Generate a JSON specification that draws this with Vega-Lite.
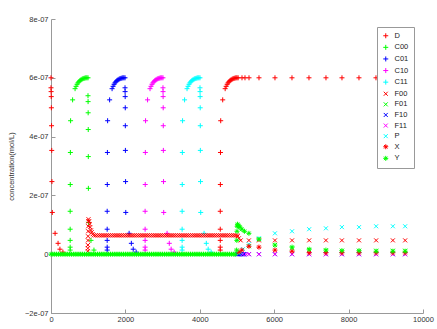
{
"$schema":"https://vega.github.io/schema/vega-lite/v6.json",
"width":372,"height":294,
"autosize":{"type":"none"},
"padding":{"left":51,"top":19,"right":14,"bottom":16},
"background":"white",
"data":{"values":[
{"s":"D","t":0,"c":6e-7},{"s":"D","t":0,"c":5.66e-7},{"s":"D","t":3,"c":5.53e-7},{"s":"D","t":6,"c":5.36e-7},{"s":"D","t":10,"c":4.98e-7},{"s":"D","t":15,"c":4.37e-7},{"s":"D","t":20,"c":3.53e-7},{"s":"D","t":25,"c":2.47e-7},{"s":"D","t":35,"c":1.42e-7},{"s":"D","t":110,"c":7.1e-8},{"s":"D","t":190,"c":3.7e-8},{"s":"D","t":240,"c":1.7e-8},{"s":"D","t":320,"c":7e-9},
{"s":"D","t":4550,"c":1.4e-8},{"s":"D","t":4550,"c":2.4e-8},{"s":"D","t":4550,"c":4.7e-8},{"s":"D","t":4550,"c":8.5e-8},{"s":"D","t":4550,"c":1.46e-7},{"s":"D","t":4553,"c":2.37e-7},{"s":"D","t":4556,"c":3.46e-7},{"s":"D","t":4562,"c":4.54e-7},{"s":"D","t":4616,"c":5.25e-7},{"s":"D","t":4682,"c":5.63e-7},{"s":"D","t":4708,"c":5.71e-7},{"s":"D","t":4735,"c":5.78e-7},{"s":"D","t":4761,"c":5.83e-7},{"s":"D","t":4788,"c":5.87e-7},{"s":"D","t":4814,"c":5.91e-7},{"s":"D","t":4840,"c":5.93e-7},{"s":"D","t":4867,"c":5.95e-7},{"s":"D","t":4893,"c":5.97e-7},{"s":"D","t":4920,"c":5.98e-7},{"s":"D","t":4946,"c":5.99e-7},{"s":"D","t":4972,"c":6e-7},{"s":"D","t":4999,"c":6e-7},{"s":"D","t":5030,"c":6e-7},
{"s":"D","t":5134,"c":6e-7},{"s":"D","t":5215,"c":6e-7},{"s":"D","t":5323,"c":6e-7},{"s":"D","t":5591,"c":6e-7},{"s":"D","t":6021,"c":6e-7},{"s":"D","t":6478,"c":6e-7},{"s":"D","t":6935,"c":6e-7},{"s":"D","t":7392,"c":6e-7},{"s":"D","t":7822,"c":6e-7},{"s":"D","t":8279,"c":6e-7},{"s":"D","t":8736,"c":6e-7},{"s":"D","t":9193,"c":6e-7},{"s":"D","t":9516,"c":6e-7},

{"s":"C00","t":515,"c":1.4e-8},{"s":"C00","t":515,"c":2.4e-8},{"s":"C00","t":515,"c":4.7e-8},{"s":"C00","t":515,"c":8.5e-8},{"s":"C00","t":515,"c":1.46e-7},{"s":"C00","t":518,"c":2.37e-7},{"s":"C00","t":521,"c":3.46e-7},{"s":"C00","t":527,"c":4.54e-7},{"s":"C00","t":581,"c":5.25e-7},{"s":"C00","t":647,"c":5.63e-7},{"s":"C00","t":673,"c":5.71e-7},{"s":"C00","t":700,"c":5.78e-7},{"s":"C00","t":726,"c":5.83e-7},{"s":"C00","t":753,"c":5.87e-7},{"s":"C00","t":779,"c":5.91e-7},{"s":"C00","t":805,"c":5.93e-7},{"s":"C00","t":832,"c":5.95e-7},{"s":"C00","t":858,"c":5.97e-7},{"s":"C00","t":885,"c":5.98e-7},{"s":"C00","t":911,"c":5.99e-7},{"s":"C00","t":937,"c":6e-7},{"s":"C00","t":964,"c":6e-7},
{"s":"C00","t":995,"c":6e-7},{"s":"C00","t":995,"c":5.39e-7},{"s":"C00","t":997,"c":5.19e-7},{"s":"C00","t":999,"c":4.81e-7},{"s":"C00","t":1001,"c":4.24e-7},{"s":"C00","t":1003,"c":3.32e-7},{"s":"C00","t":1005,"c":2.24e-7},{"s":"C00","t":1010,"c":1.08e-7},{"s":"C00","t":1075,"c":4.7e-8},{"s":"C00","t":1155,"c":1.4e-8},

{"s":"C01","t":1510,"c":1.4e-8},{"s":"C01","t":1510,"c":2.4e-8},{"s":"C01","t":1510,"c":4.7e-8},{"s":"C01","t":1510,"c":8.5e-8},{"s":"C01","t":1510,"c":1.46e-7},{"s":"C01","t":1513,"c":2.37e-7},{"s":"C01","t":1516,"c":3.46e-7},{"s":"C01","t":1522,"c":4.54e-7},{"s":"C01","t":1576,"c":5.25e-7},{"s":"C01","t":1642,"c":5.63e-7},{"s":"C01","t":1668,"c":5.71e-7},{"s":"C01","t":1695,"c":5.78e-7},{"s":"C01","t":1721,"c":5.83e-7},{"s":"C01","t":1748,"c":5.87e-7},{"s":"C01","t":1774,"c":5.91e-7},{"s":"C01","t":1800,"c":5.93e-7},{"s":"C01","t":1827,"c":5.95e-7},{"s":"C01","t":1853,"c":5.97e-7},{"s":"C01","t":1880,"c":5.98e-7},{"s":"C01","t":1906,"c":5.99e-7},{"s":"C01","t":1932,"c":6e-7},{"s":"C01","t":1959,"c":6e-7},
{"s":"C01","t":1990,"c":6e-7},{"s":"C01","t":1990,"c":5.66e-7},{"s":"C01","t":1992,"c":5.53e-7},{"s":"C01","t":1994,"c":5.36e-7},{"s":"C01","t":1996,"c":4.98e-7},{"s":"C01","t":1998,"c":4.37e-7},{"s":"C01","t":2000,"c":3.53e-7},{"s":"C01","t":2005,"c":2.47e-7},{"s":"C01","t":2010,"c":1.42e-7},{"s":"C01","t":2100,"c":7.1e-8},{"s":"C01","t":2160,"c":3.7e-8},{"s":"C01","t":2210,"c":1.7e-8},{"s":"C01","t":2290,"c":7e-9},

{"s":"C10","t":2530,"c":1.4e-8},{"s":"C10","t":2530,"c":2.4e-8},{"s":"C10","t":2530,"c":4.7e-8},{"s":"C10","t":2530,"c":8.5e-8},{"s":"C10","t":2530,"c":1.46e-7},{"s":"C10","t":2533,"c":2.37e-7},{"s":"C10","t":2536,"c":3.46e-7},{"s":"C10","t":2542,"c":4.54e-7},{"s":"C10","t":2596,"c":5.25e-7},{"s":"C10","t":2662,"c":5.63e-7},{"s":"C10","t":2688,"c":5.71e-7},{"s":"C10","t":2715,"c":5.78e-7},{"s":"C10","t":2741,"c":5.83e-7},{"s":"C10","t":2768,"c":5.87e-7},{"s":"C10","t":2794,"c":5.91e-7},{"s":"C10","t":2820,"c":5.93e-7},{"s":"C10","t":2847,"c":5.95e-7},{"s":"C10","t":2873,"c":5.97e-7},{"s":"C10","t":2900,"c":5.98e-7},{"s":"C10","t":2926,"c":5.99e-7},{"s":"C10","t":2952,"c":6e-7},{"s":"C10","t":2979,"c":6e-7},
{"s":"C10","t":3010,"c":6e-7},{"s":"C10","t":3010,"c":5.66e-7},{"s":"C10","t":3012,"c":5.53e-7},{"s":"C10","t":3014,"c":5.36e-7},{"s":"C10","t":3016,"c":4.98e-7},{"s":"C10","t":3018,"c":4.37e-7},{"s":"C10","t":3020,"c":3.53e-7},{"s":"C10","t":3025,"c":2.47e-7},{"s":"C10","t":3030,"c":1.42e-7},{"s":"C10","t":3120,"c":7.1e-8},{"s":"C10","t":3180,"c":3.7e-8},{"s":"C10","t":3230,"c":1.7e-8},{"s":"C10","t":3310,"c":7e-9},

{"s":"C11","t":3525,"c":1.4e-8},{"s":"C11","t":3525,"c":2.4e-8},{"s":"C11","t":3525,"c":4.7e-8},{"s":"C11","t":3525,"c":8.5e-8},{"s":"C11","t":3525,"c":1.46e-7},{"s":"C11","t":3528,"c":2.37e-7},{"s":"C11","t":3531,"c":3.46e-7},{"s":"C11","t":3537,"c":4.54e-7},{"s":"C11","t":3591,"c":5.25e-7},{"s":"C11","t":3657,"c":5.63e-7},{"s":"C11","t":3683,"c":5.71e-7},{"s":"C11","t":3710,"c":5.78e-7},{"s":"C11","t":3736,"c":5.83e-7},{"s":"C11","t":3763,"c":5.87e-7},{"s":"C11","t":3789,"c":5.91e-7},{"s":"C11","t":3815,"c":5.93e-7},{"s":"C11","t":3842,"c":5.95e-7},{"s":"C11","t":3868,"c":5.97e-7},{"s":"C11","t":3895,"c":5.98e-7},{"s":"C11","t":3921,"c":5.99e-7},{"s":"C11","t":3947,"c":6e-7},{"s":"C11","t":3974,"c":6e-7},
{"s":"C11","t":4005,"c":6e-7},{"s":"C11","t":4005,"c":5.66e-7},{"s":"C11","t":4007,"c":5.53e-7},{"s":"C11","t":4009,"c":5.36e-7},{"s":"C11","t":4011,"c":4.98e-7},{"s":"C11","t":4013,"c":4.37e-7},{"s":"C11","t":4015,"c":3.53e-7},{"s":"C11","t":4020,"c":2.47e-7},{"s":"C11","t":4025,"c":1.42e-7},{"s":"C11","t":4115,"c":7.1e-8},{"s":"C11","t":4175,"c":3.7e-8},{"s":"C11","t":4225,"c":1.7e-8},{"s":"C11","t":4305,"c":7e-9},

{"s":"F00","t":990,"c":1e-8},{"s":"F00","t":990,"c":2e-8},{"s":"F00","t":992,"c":3.1e-8},{"s":"F00","t":994,"c":4.7e-8},{"s":"F00","t":996,"c":6.1e-8},{"s":"F00","t":998,"c":7.8e-8},{"s":"F00","t":1000,"c":9.5e-8},{"s":"F00","t":1002,"c":1.12e-7},{"s":"F00","t":1008,"c":1.19e-7},{"s":"F00","t":1025,"c":1.12e-7},{"s":"F00","t":1040,"c":1.02e-7},{"s":"F00","t":1055,"c":9.2e-8},{"s":"F00","t":1075,"c":8.1e-8},{"s":"F00","t":1095,"c":7.5e-8},{"s":"F00","t":1120,"c":6.8e-8},{"s":"F00","t":1150,"c":6.4e-8},
{"s":"F00","t":1200,"c":6.4e-8},{"s":"F00","t":1250,"c":6.4e-8},{"s":"F00","t":1300,"c":6.4e-8},{"s":"F00","t":1350,"c":6.4e-8},{"s":"F00","t":1400,"c":6.4e-8},{"s":"F00","t":1450,"c":6.4e-8},{"s":"F00","t":1500,"c":6.4e-8},{"s":"F00","t":1550,"c":6.4e-8},{"s":"F00","t":1600,"c":6.4e-8},{"s":"F00","t":1650,"c":6.4e-8},{"s":"F00","t":1700,"c":6.4e-8},{"s":"F00","t":1750,"c":6.4e-8},{"s":"F00","t":1800,"c":6.4e-8},{"s":"F00","t":1850,"c":6.4e-8},{"s":"F00","t":1900,"c":6.4e-8},{"s":"F00","t":1950,"c":6.4e-8},{"s":"F00","t":2000,"c":6.4e-8},{"s":"F00","t":2050,"c":6.4e-8},{"s":"F00","t":2100,"c":6.4e-8},{"s":"F00","t":2150,"c":6.4e-8},{"s":"F00","t":2200,"c":6.4e-8},{"s":"F00","t":2250,"c":6.4e-8},{"s":"F00","t":2300,"c":6.4e-8},{"s":"F00","t":2350,"c":6.4e-8},{"s":"F00","t":2400,"c":6.4e-8},{"s":"F00","t":2450,"c":6.4e-8},{"s":"F00","t":2500,"c":6.4e-8},{"s":"F00","t":2550,"c":6.4e-8},{"s":"F00","t":2600,"c":6.4e-8},{"s":"F00","t":2650,"c":6.4e-8},{"s":"F00","t":2700,"c":6.4e-8},{"s":"F00","t":2750,"c":6.4e-8},{"s":"F00","t":2800,"c":6.4e-8},{"s":"F00","t":2850,"c":6.4e-8},{"s":"F00","t":2900,"c":6.4e-8},{"s":"F00","t":2950,"c":6.4e-8},{"s":"F00","t":3000,"c":6.4e-8},{"s":"F00","t":3050,"c":6.4e-8},{"s":"F00","t":3100,"c":6.4e-8},{"s":"F00","t":3150,"c":6.4e-8},{"s":"F00","t":3200,"c":6.4e-8},{"s":"F00","t":3250,"c":6.4e-8},{"s":"F00","t":3300,"c":6.4e-8},{"s":"F00","t":3350,"c":6.4e-8},{"s":"F00","t":3400,"c":6.4e-8},{"s":"F00","t":3450,"c":6.4e-8},{"s":"F00","t":3500,"c":6.4e-8},{"s":"F00","t":3550,"c":6.4e-8},{"s":"F00","t":3600,"c":6.4e-8},{"s":"F00","t":3650,"c":6.4e-8},{"s":"F00","t":3700,"c":6.4e-8},{"s":"F00","t":3750,"c":6.4e-8},{"s":"F00","t":3800,"c":6.4e-8},{"s":"F00","t":3850,"c":6.4e-8},{"s":"F00","t":3900,"c":6.4e-8},{"s":"F00","t":3950,"c":6.4e-8},{"s":"F00","t":4000,"c":6.4e-8},{"s":"F00","t":4050,"c":6.4e-8},{"s":"F00","t":4100,"c":6.4e-8},{"s":"F00","t":4150,"c":6.4e-8},{"s":"F00","t":4200,"c":6.4e-8},{"s":"F00","t":4250,"c":6.4e-8},{"s":"F00","t":4300,"c":6.4e-8},{"s":"F00","t":4350,"c":6.4e-8},{"s":"F00","t":4400,"c":6.4e-8},{"s":"F00","t":4450,"c":6.4e-8},{"s":"F00","t":4500,"c":6.4e-8},{"s":"F00","t":4550,"c":6.4e-8},{"s":"F00","t":4600,"c":6.4e-8},{"s":"F00","t":4650,"c":6.4e-8},{"s":"F00","t":4700,"c":6.4e-8},{"s":"F00","t":4750,"c":6.4e-8},{"s":"F00","t":4800,"c":6.4e-8},{"s":"F00","t":4850,"c":6.4e-8},{"s":"F00","t":4900,"c":6.4e-8},{"s":"F00","t":4950,"c":6.4e-8},{"s":"F00","t":5000,"c":6.4e-8},
{"s":"F00","t":5020,"c":6.1e-8},{"s":"F00","t":5050,"c":5.4e-8},{"s":"F00","t":5100,"c":4.7e-8},{"s":"F00","t":5320,"c":4.7e-8},{"s":"F00","t":5590,"c":4.7e-8},{"s":"F00","t":6020,"c":4.7e-8},{"s":"F00","t":6480,"c":4.7e-8},{"s":"F00","t":6940,"c":4.7e-8},{"s":"F00","t":7390,"c":4.7e-8},{"s":"F00","t":7820,"c":4.7e-8},{"s":"F00","t":8280,"c":4.7e-8},{"s":"F00","t":8740,"c":4.7e-8},{"s":"F00","t":9190,"c":4.7e-8},{"s":"F00","t":9520,"c":4.7e-8},

{"s":"F01","t":5320,"c":2.7e-8},{"s":"F01","t":5590,"c":5.1e-8},{"s":"F01","t":6020,"c":3.1e-8},{"s":"F01","t":6480,"c":2.0e-8},{"s":"F01","t":6940,"c":1.4e-8},{"s":"F01","t":7390,"c":1.2e-8},{"s":"F01","t":7820,"c":1.2e-8},{"s":"F01","t":8280,"c":1.2e-8},{"s":"F01","t":8740,"c":1.2e-8},{"s":"F01","t":9190,"c":1.2e-8},{"s":"F01","t":9520,"c":1.2e-8},

{"s":"F10","t":5000,"c":0},{"s":"F10","t":5020,"c":0},{"s":"F10","t":5040,"c":0},{"s":"F10","t":5060,"c":0},{"s":"F10","t":5080,"c":0},{"s":"F10","t":5100,"c":0},{"s":"F10","t":5120,"c":0},{"s":"F10","t":5140,"c":0},{"s":"F10","t":5160,"c":0},{"s":"F10","t":5180,"c":0},{"s":"F10","t":5200,"c":0},{"s":"F10","t":5320,"c":0},{"s":"F10","t":5590,"c":0},{"s":"F10","t":6020,"c":0},{"s":"F10","t":6480,"c":0},{"s":"F10","t":6940,"c":0},{"s":"F10","t":7390,"c":0},{"s":"F10","t":7820,"c":0},{"s":"F10","t":8280,"c":0},{"s":"F10","t":8740,"c":0},{"s":"F10","t":9190,"c":0},{"s":"F10","t":9520,"c":0},

{"s":"F11","t":5150,"c":0},{"s":"F11","t":5250,"c":0},{"s":"F11","t":5320,"c":0},{"s":"F11","t":5590,"c":0},{"s":"F11","t":6020,"c":0},{"s":"F11","t":6480,"c":0},{"s":"F11","t":6940,"c":0},{"s":"F11","t":7390,"c":0},{"s":"F11","t":7820,"c":0},{"s":"F11","t":8280,"c":0},{"s":"F11","t":8740,"c":0},{"s":"F11","t":9190,"c":0},{"s":"F11","t":9520,"c":0},

{"s":"P","t":5050,"c":3e-9},{"s":"P","t":5100,"c":7e-9},{"s":"P","t":5160,"c":1.7e-8},{"s":"P","t":5320,"c":3.4e-8},{"s":"P","t":5590,"c":5.4e-8},{"s":"P","t":6020,"c":7.1e-8},{"s":"P","t":6480,"c":7.8e-8},{"s":"P","t":6940,"c":8.5e-8},{"s":"P","t":7390,"c":8.8e-8},{"s":"P","t":7820,"c":9.2e-8},{"s":"P","t":8280,"c":9.2e-8},{"s":"P","t":8740,"c":9.5e-8},{"s":"P","t":9190,"c":9.5e-8},{"s":"P","t":9520,"c":9.5e-8},

{"s":"X","t":5050,"c":7e-9},{"s":"X","t":5130,"c":1.4e-8},{"s":"X","t":5320,"c":2.7e-8},{"s":"X","t":5590,"c":2.4e-8},{"s":"X","t":6020,"c":1.4e-8},{"s":"X","t":6480,"c":1.0e-8},{"s":"X","t":6940,"c":5e-9},{"s":"X","t":7390,"c":5e-9},{"s":"X","t":7820,"c":5e-9},{"s":"X","t":8280,"c":5e-9},{"s":"X","t":8740,"c":5e-9},{"s":"X","t":9190,"c":5e-9},{"s":"X","t":9520,"c":5e-9},

{"s":"Y","t":0,"c":0},{"s":"Y","t":50,"c":0},{"s":"Y","t":100,"c":0},{"s":"Y","t":150,"c":0},{"s":"Y","t":200,"c":0},{"s":"Y","t":250,"c":0},{"s":"Y","t":300,"c":0},{"s":"Y","t":350,"c":0},{"s":"Y","t":400,"c":0},{"s":"Y","t":450,"c":0},{"s":"Y","t":500,"c":0},{"s":"Y","t":550,"c":0},{"s":"Y","t":600,"c":0},{"s":"Y","t":650,"c":0},{"s":"Y","t":700,"c":0},{"s":"Y","t":750,"c":0},{"s":"Y","t":800,"c":0},{"s":"Y","t":850,"c":0},{"s":"Y","t":900,"c":0},{"s":"Y","t":950,"c":0},{"s":"Y","t":1000,"c":0},{"s":"Y","t":1050,"c":0},{"s":"Y","t":1100,"c":0},{"s":"Y","t":1150,"c":0},{"s":"Y","t":1200,"c":0},{"s":"Y","t":1250,"c":0},{"s":"Y","t":1300,"c":0},{"s":"Y","t":1350,"c":0},{"s":"Y","t":1400,"c":0},{"s":"Y","t":1450,"c":0},{"s":"Y","t":1500,"c":0},{"s":"Y","t":1550,"c":0},{"s":"Y","t":1600,"c":0},{"s":"Y","t":1650,"c":0},{"s":"Y","t":1700,"c":0},{"s":"Y","t":1750,"c":0},{"s":"Y","t":1800,"c":0},{"s":"Y","t":1850,"c":0},{"s":"Y","t":1900,"c":0},{"s":"Y","t":1950,"c":0},{"s":"Y","t":2000,"c":0},{"s":"Y","t":2050,"c":0},{"s":"Y","t":2100,"c":0},{"s":"Y","t":2150,"c":0},{"s":"Y","t":2200,"c":0},{"s":"Y","t":2250,"c":0},{"s":"Y","t":2300,"c":0},{"s":"Y","t":2350,"c":0},{"s":"Y","t":2400,"c":0},{"s":"Y","t":2450,"c":0},{"s":"Y","t":2500,"c":0},{"s":"Y","t":2550,"c":0},{"s":"Y","t":2600,"c":0},{"s":"Y","t":2650,"c":0},{"s":"Y","t":2700,"c":0},{"s":"Y","t":2750,"c":0},{"s":"Y","t":2800,"c":0},{"s":"Y","t":2850,"c":0},{"s":"Y","t":2900,"c":0},{"s":"Y","t":2950,"c":0},{"s":"Y","t":3000,"c":0},{"s":"Y","t":3050,"c":0},{"s":"Y","t":3100,"c":0},{"s":"Y","t":3150,"c":0},{"s":"Y","t":3200,"c":0},{"s":"Y","t":3250,"c":0},{"s":"Y","t":3300,"c":0},{"s":"Y","t":3350,"c":0},{"s":"Y","t":3400,"c":0},{"s":"Y","t":3450,"c":0},{"s":"Y","t":3500,"c":0},{"s":"Y","t":3550,"c":0},{"s":"Y","t":3600,"c":0},{"s":"Y","t":3650,"c":0},{"s":"Y","t":3700,"c":0},{"s":"Y","t":3750,"c":0},{"s":"Y","t":3800,"c":0},{"s":"Y","t":3850,"c":0},{"s":"Y","t":3900,"c":0},{"s":"Y","t":3950,"c":0},{"s":"Y","t":4000,"c":0},{"s":"Y","t":4050,"c":0},{"s":"Y","t":4100,"c":0},{"s":"Y","t":4150,"c":0},{"s":"Y","t":4200,"c":0},{"s":"Y","t":4250,"c":0},{"s":"Y","t":4300,"c":0},{"s":"Y","t":4350,"c":0},{"s":"Y","t":4400,"c":0},{"s":"Y","t":4450,"c":0},{"s":"Y","t":4500,"c":0},{"s":"Y","t":4550,"c":0},{"s":"Y","t":4600,"c":0},{"s":"Y","t":4650,"c":0},{"s":"Y","t":4700,"c":0},{"s":"Y","t":4750,"c":0},{"s":"Y","t":4800,"c":0},{"s":"Y","t":4850,"c":0},{"s":"Y","t":4900,"c":0},{"s":"Y","t":4950,"c":0},
{"s":"Y","t":4990,"c":1.4e-8},{"s":"Y","t":4995,"c":4.7e-8},{"s":"Y","t":5000,"c":7.8e-8},{"s":"Y","t":5005,"c":9.5e-8},{"s":"Y","t":5015,"c":1.02e-7},{"s":"Y","t":5030,"c":9.8e-8},{"s":"Y","t":5050,"c":9.5e-8},{"s":"Y","t":5080,"c":9.2e-8},{"s":"Y","t":5130,"c":8.5e-8},{"s":"Y","t":5200,"c":7.8e-8},{"s":"Y","t":5320,"c":7.1e-8},{"s":"Y","t":5590,"c":5.1e-8},{"s":"Y","t":6020,"c":3.1e-8},{"s":"Y","t":6480,"c":2.4e-8},{"s":"Y","t":6940,"c":1.7e-8},{"s":"Y","t":7390,"c":1.4e-8},{"s":"Y","t":7820,"c":1.2e-8},{"s":"Y","t":8280,"c":1.2e-8},{"s":"Y","t":8740,"c":1.0e-8},{"s":"Y","t":9190,"c":1.0e-8},{"s":"Y","t":9520,"c":1.0e-8}
]},
"mark":{"type":"point","filled":false,"strokeWidth":1,"size":25,"opacity":1},
"encoding":{
"x":{"field":"t","type":"quantitative","scale":{"domain":[0,10000],"nice":false},
 "axis":{"title":null,"values":[0,2000,4000,6000,8000,10000],"format":"d","grid":false,"tickSize":-4,"labelPadding":6,"labelFlush":false}},
"y":{"field":"c","type":"quantitative","scale":{"domain":[-2e-7,8e-7],"nice":false,"zero":false},
 "axis":{"title":"concentration(mol/L)","values":[-2e-7,0,2e-7,4e-7,6e-7,8e-7],"grid":false,"tickSize":-4,"labelPadding":7,"titlePadding":9,
 "labelExpr":"datum.value == 0 ? '0' : replace(format(datum.value, '.0e'), 'e-', 'e-0')"}},
"color":{"field":"s","type":"nominal","sort":null,
 "scale":{"domain":["D","C00","C01","C10","C11","F00","F01","F10","F11","P","X","Y"],
  "range":["#ff0000","#00ff00","#0000ff","#ff00ff","#00ffff","#ff0000","#00ff00","#0000ff","#ff00ff","#00ffff","#ff0000","#00ff00"]},
 "legend":{"title":null,"orient":"none","legendX":326,"legendY":8,"fillColor":"white","strokeColor":"#999","padding":5,"labelFontSize":7.5,"labelColor":"#222","symbolSize":25,"symbolStrokeWidth":1,"rowPadding":1.6,"labelOffset":5}},
"shape":{"field":"s","type":"nominal","sort":null,
 "scale":{"domain":["D","C00","C01","C10","C11","F00","F01","F10","F11","P","X","Y"],
  "range":["M-1,0L1,0M0,-1L0,1","M-1,0L1,0M0,-1L0,1","M-1,0L1,0M0,-1L0,1","M-1,0L1,0M0,-1L0,1","M-1,0L1,0M0,-1L0,1",
   "M-0.8,-0.8L0.8,0.8M-0.8,0.8L0.8,-0.8","M-0.8,-0.8L0.8,0.8M-0.8,0.8L0.8,-0.8","M-0.8,-0.8L0.8,0.8M-0.8,0.8L0.8,-0.8","M-0.8,-0.8L0.8,0.8M-0.8,0.8L0.8,-0.8","M-0.8,-0.8L0.8,0.8M-0.8,0.8L0.8,-0.8",
   "M-1,0L1,0M0,-1L0,1M-0.7,-0.7L0.7,0.7M-0.7,0.7L0.7,-0.7","M-1,0L1,0M0,-1L0,1M-0.7,-0.7L0.7,0.7M-0.7,0.7L0.7,-0.7"]}}
},
"config":{"view":{"stroke":null},"font":"Liberation Sans",
 "axis":{"domainColor":"#999","tickColor":"#999","labelColor":"#333","labelFontSize":7.5,"titleFontSize":7.5,"titleFontWeight":"normal","titleColor":"#333","labelFont":"Liberation Sans","titleFont":"Liberation Sans"}}
}
